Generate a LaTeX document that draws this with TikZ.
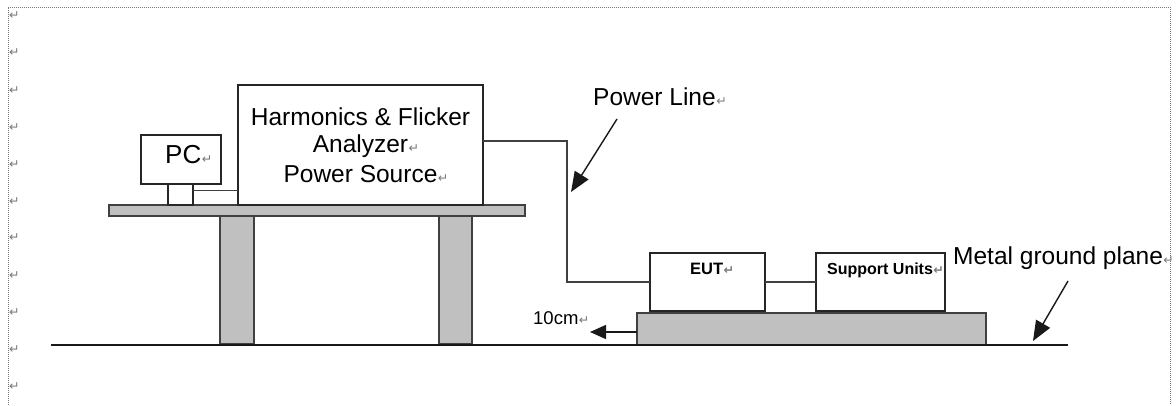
\documentclass[tikz,border=0pt]{standalone}
\usepackage{fontspec}
\setmainfont{Liberation Sans}
\newfontfamily\symfont{DejaVu Sans}
\usetikzlibrary{arrows.meta,calc}
\definecolor{platform}{RGB}{192,192,192}
\definecolor{edge}{RGB}{64,64,64}
\definecolor{markgray}{RGB}{120,120,120}
\newcommand{\parmk}{\rlap{\kern0.5pt{\symfont\fontsize{12.5}{12.5}\selectfont\textcolor{markgray}{↵}}}}
\tikzset{
  box/.style={draw=black!85, line width=1.3pt, fill=white, inner sep=0pt, outer sep=0pt},
  slab/.style={draw=edge, line width=1.3pt, fill=platform, inner sep=0pt, outer sep=0pt},
  wire/.style={draw=black!75, line width=1.1pt},
  pointer/.style={draw=black!90, line width=1.4pt, -{Triangle[length=20pt,width=16pt]}},
  lbl/.style={inner sep=0pt, anchor=base west, font=\fontsize{24.5}{28}\selectfont},
  ctr/.style={inner sep=0pt, anchor=base, font=\fontsize{24.5}{28}\selectfont},
  pmark/.style={inner sep=0pt, anchor=west, font=\symfont\fontsize{12.5}{12.5}\selectfont, text=markgray},
}
\begin{document}
\begin{tikzpicture}[x=1pt,y=-1pt]
\useasboundingbox (0,0) rectangle (1176,405);
% page frame
\coordinate (fbl) at (8,405);
\coordinate (ftl) at (8,7);
\coordinate (ftr) at (1170,7);
\coordinate (fbr) at (1170,405);
\draw[markgray, densely dotted, line width=1pt] (fbl) -- (ftl) -- (ftr) -- (fbr);
\foreach \yy in {16,53,91,128,165,202,238,276,313,350,387}
  \node[pmark] (pm-\yy) at (9,\yy) {↵};
% table
\node[slab, minimum width=34pt, minimum height=128pt] (leg1) at (237,280) {};
\node[slab, minimum width=33pt, minimum height=128pt] (leg2) at (455.5,280) {};
\node[slab, minimum width=416pt, minimum height=11pt] (top) at (317,210.5) {};
% PC
\node[box, minimum width=80pt, minimum height=49pt] (pc) at (181,159.5) {};
\node[box, minimum width=25pt, minimum height=21pt] (pcs) at (180.5,194.5) {};
\node[lbl, font=\fontsize{26}{28}\selectfont] (pct) at (165,163.3) {PC\parmk};
% analyzer
\node[box, minimum width=245pt, minimum height=120pt] (an) at (360.5,145) {};
\node[ctr] (an1) at (360.5,125.5) {Harmonics \& Flicker};
\node[ctr] (an2) at (360.5,152) {Analyzer\parmk};
\node[ctr] (an3) at (360.5,182) {Power Source\parmk};
\coordinate (pcsport) at ($(pcs.north east)!0.33!(pcs.south east)$);
\draw[wire] (pcsport) -- (pcsport -| an.west);
% EUT and support units
\node[box, minimum width=115pt, minimum height=58pt] (eut) at (707.5,282) {};
\node[box, minimum width=129pt, minimum height=58pt] (su) at (880.5,282) {};
\node[lbl, font=\bfseries\fontsize{16.5}{18}\selectfont] (eutt) at (690,274) {EUT\parmk};
\node[lbl, font=\bfseries\fontsize{16}{18}\selectfont] (sut) at (827,274) {Support Units\parmk};
\draw[wire] (eut.east) -- (su.west);
% power line
\draw[wire] ([yshift=4pt]an.east) -| ($(eut.west)+(-83,0)$) -- (eut.west);
% base
\node[slab, minimum width=349pt, minimum height=32pt] (base) at (811.5,329) {};
% ground line
\coordinate (gl) at (51,345);
\coordinate (gr) at (1068,345);
\draw[black!90, line width=2pt] (gl) -- (gr);
% 10cm arrow
\coordinate (tentip) at (590,332);
\draw[draw=black!90, line width=1.4pt, -{Triangle[length=16pt,width=14pt]}] ([yshift=-3pt]base.west) -- (tentip);
\node[lbl, font=\fontsize{18.5}{20}\selectfont] (tencm) at (533,324) {10cm\parmk};
% power line label
\node[lbl] (plt) at (593,105.8) {Power Line\parmk};
\coordinate (plfrom) at (617,119);
\coordinate (plto) at (571,192);
\draw[pointer] (plfrom) -- (plto);
% metal ground plane label
\node[lbl] (mgt) at (953,264) {Metal ground plane\parmk};
\coordinate (mgfrom) at (1068,281);
\coordinate (mgto) at (1033,341);
\draw[pointer] (mgfrom) -- (mgto);
\end{tikzpicture}
\end{document}
